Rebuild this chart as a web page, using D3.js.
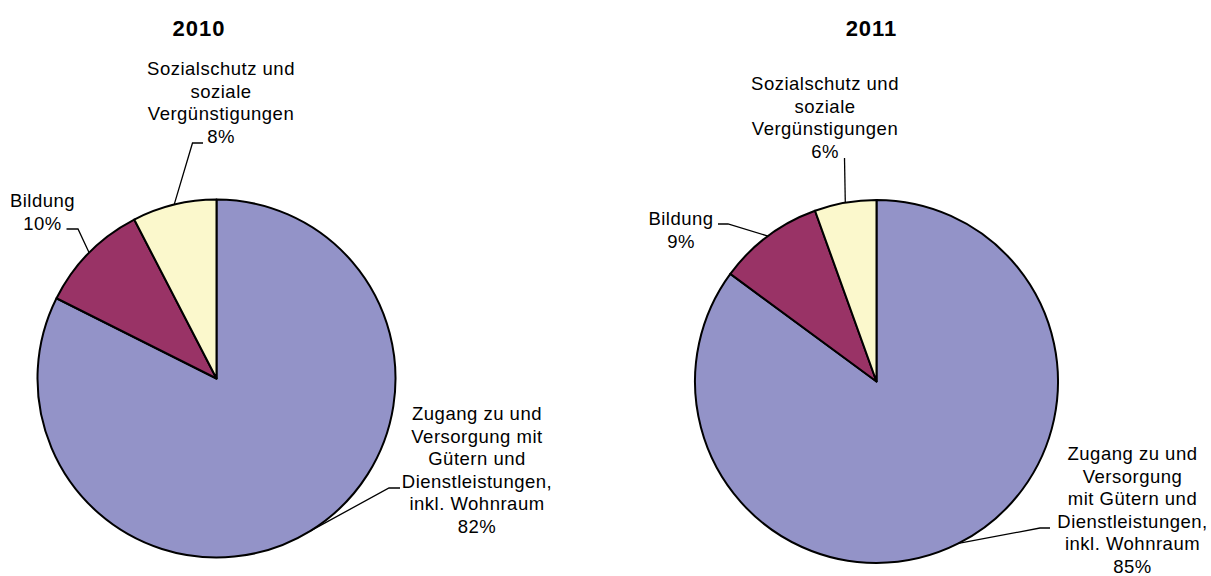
<!DOCTYPE html>
<html lang="de">
<head>
<meta charset="utf-8">
<script src="https://d3js.org/d3.v7.min.js"></script>
<title>Pie 2010 / 2011</title>
<style>
  body { margin: 0; background: #fff; }
  svg text { font-family: "Liberation Sans", Arial, sans-serif; fill: #000; }
  .title { font-size: 22px; font-weight: bold; letter-spacing: 1px; }
  .label { font-size: 18.5px; letter-spacing: 0.5px; }
</style>
</head>
<body>
<div id="chart"></div>
<script>
// data
const years = ["2010", "2011"];
const categories = ["Zugang zu und Versorgung mit Gütern und Dienstleistungen, inkl. Wohnraum",
                    "Bildung",
                    "Sozialschutz und soziale Vergünstigungen"];
const values2010 = [82.4, 10.0, 7.6];
const values2011 = [85.1, 9.4, 5.5];
const labelLines2010 = [
  ["Zugang zu und", "Versorgung mit", "Gütern und", "Dienstleistungen,", "inkl. Wohnraum"],
  ["Bildung"],
  ["Sozialschutz und", "soziale", "Vergünstigungen"]
];
const labelLines2011 = [
  ["Zugang zu und", "Versorgung", "mit Gütern und", "Dienstleistungen,", "inkl. Wohnraum"],
  ["Bildung"],
  ["Sozialschutz und", "soziale", "Vergünstigungen"]
];
const colors = ["#9393c8", "#993366", "#fbf8cc"];

// layout (positions only)
const layouts = [
  { cx: 216.5, cy: 378.5, r: 179, titleX: 199, titleY: 36,
    labels: [
      { x: 477, y: 420, sx: 400, sy: 488, ex: 389, ey: 488 },
      { x: 42.5, y: 207, sx: 66.5, sy: 229, ex: 78, ey: 229 },
      { x: 221, y: 75, sx: 203, sy: 143, ex: 192.5, ey: 143 }
    ] },
  { cx: 876.5, cy: 381.5, r: 181.5, titleX: 871.5, titleY: 36,
    labels: [
      { x: 1132.5, y: 460, sx: 1050, sy: 528, ex: 1040, ey: 528 },
      { x: 681, y: 225, sx: 718, sy: 224, ex: 728, ey: 224 },
      { x: 825, y: 90, sx: 844.5, sy: 158, ex: 844.5, ey: 158 }
    ] }
];
const lineHeight = 22.6;

const svg = d3.select("#chart").append("svg")
  .attr("width", 1211).attr("height", 576);

const pie = d3.pie().sort(null).value(d => d);

[values2010, values2011].forEach((vals, i) => {
  const L = layouts[i];
  const lines = i === 0 ? labelLines2010 : labelLines2011;
  const arcs = pie(vals);
  const arc = d3.arc().innerRadius(0).outerRadius(L.r);
  const edge = d3.arc().innerRadius(L.r).outerRadius(L.r);

  svg.append("text").attr("class", "title")
    .attr("x", L.titleX).attr("y", L.titleY)
    .attr("text-anchor", "middle").text(years[i]);

  const g = svg.append("g").attr("transform", `translate(${L.cx},${L.cy})`);
  g.selectAll("path.slice").data(arcs).enter().append("path")
    .attr("class", "slice")
    .attr("d", arc)
    .attr("fill", (d, k) => colors[k])
    .attr("stroke", "#000")
    .attr("stroke-width", 2)
    .attr("stroke-linejoin", "round");

  // leader lines
  arcs.forEach((a, k) => {
    const lb = L.labels[k];
    const c = edge.centroid(a);
    svg.append("polyline")
      .attr("points", [[lb.sx, lb.sy], [lb.ex, lb.ey], [L.cx + c[0], L.cy + c[1]]].map(p => p.join(",")).join(" "))
      .attr("fill", "none")
      .attr("stroke", "#000")
      .attr("stroke-width", 1.3);

    const t = svg.append("text").attr("class", "label")
      .attr("text-anchor", "middle")
      .attr("x", lb.x).attr("y", lb.y);
    lines[k].concat([Math.round(a.value) + "%"]).forEach((s, j) => {
      t.append("tspan").attr("x", lb.x).attr("dy", j === 0 ? 0 : lineHeight).text(s);
    });
  });
});
</script>
</body>
</html>
